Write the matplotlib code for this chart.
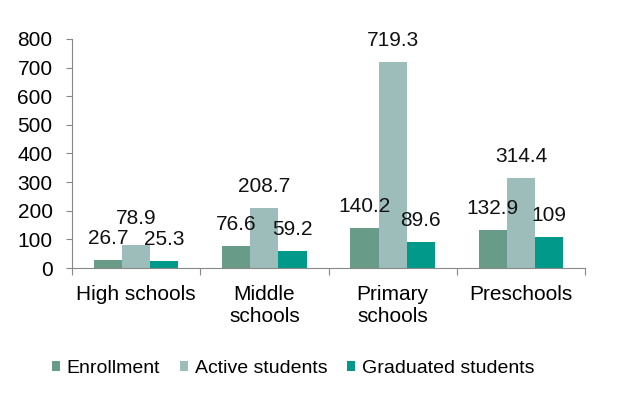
import numpy as np
from matplotlib import pyplot as plt

categories = ["High schools", "Middle\nschools", "Primary\nschools", "Preschools"]
enrollment = [26.7, 76.6, 140.2, 132.9]
active_students = [78.9, 208.7, 719.3, 314.4]
graduated_students = [25.3, 59.2, 89.6, 109]
series_names = ["Enrollment", "Active students", "Graduated students"]
y_ticks = [0, 100, 200, 300, 400, 500, 600, 700, 800]

plt.rcParams["font.family"] = ["Liberation Sans", "DejaVu Sans"]

colors = ["#689b88", "#9dbdba", "#00998a"]
fig = plt.figure(figsize=(6.27, 4.11), dpi=100)
ax = fig.add_axes([72 / 627, 1 - 268 / 411, 513 / 627, 229 / 411])

x = np.arange(len(categories))
width = 0.22
all_series = [enrollment, active_students, graduated_students]
for i, (vals, name) in enumerate(zip(all_series, series_names)):
    pos = x + (i - 1) * width
    bars = ax.bar(pos, vals, width, color=colors[i], label=name, zorder=2)
    for j, (b, v) in enumerate(zip(bars, vals)):
        # lift the middle label in the first group clear of its neighbours
        dy = 15.5 if (i == 1 and j == 0) else 11.5
        ax.annotate(f"{v:g}", (b.get_x() + b.get_width() / 2, v),
                    xytext=(0, dy), textcoords="offset points",
                    ha="center", va="baseline", fontsize=15, color="#111111")

ax.set_xlim(-0.5, len(categories) - 0.5)
ax.set_ylim(0, 800)
ax.set_yticks(y_ticks)
ax.tick_params(axis="y", labelsize=15, length=4, color="#888888", pad=10)

# category labels between boundary ticks
ax.set_xticks(np.arange(len(categories) + 1) - 0.5)
ax.set_xticklabels([])
ax.tick_params(axis="x", length=5, color="#888888")
ax.set_xticks(x, minor=True)
ax.set_xticklabels(categories, minor=True, fontsize=15, linespacing=1.2)
ax.tick_params(axis="x", which="minor", length=0, pad=12)

for side in ["top", "right"]:
    ax.spines[side].set_visible(False)
for side in ["left", "bottom"]:
    ax.spines[side].set_color("#888888")

fig.legend(loc="center", bbox_to_anchor=(293 / 627, 1 - 368 / 411), ncol=3,
           frameon=False, fontsize=14, handlelength=0.42, handleheight=0.42,
           handletextpad=0.35, columnspacing=1.0)

fig.savefig("out.png", dpi=100)
